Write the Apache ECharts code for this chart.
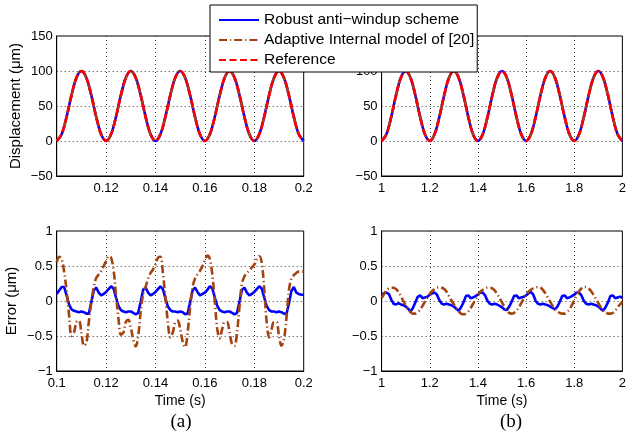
<!DOCTYPE html>
<html>
<head>
<meta charset="utf-8">
<title>Tracking performance</title>
<script src="https://cdn.jsdelivr.net/npm/echarts@6/dist/echarts.min.js"></script>
<style>
  html, body { margin: 0; padding: 0; background: #fff; }
  #chart { width: 629px; height: 438px; }
</style>
</head>
<body>
<div id="chart"></div>
<script>
// ---- series names ----
const seriesNames = ['Robust anti\u2212windup scheme', 'Adaptive Internal model of [20]', 'Reference'];

// ---- sampling grids: (a) 0.1–0.2 s, (b) 1–2 s ----
const timeStartA = 0.1, dispStepA = 0.002, errStepA = 0.001;
const timeStartB = 1.0, dispStepB = 0.02, errStepB = 0.01;

// ---- displacement (µm), same sampled profile in both panels ----
const displacement = [
  0, 9.5, 34.5, 65.5, 90.5, 100, 90.5, 65.5, 34.5, 9.5,
  0, 9.5, 34.5, 65.5, 90.5, 100, 90.5, 65.5, 34.5, 9.5,
  0, 9.5, 34.5, 65.5, 90.5, 100, 90.5, 65.5, 34.5, 9.5,
  0, 9.5, 34.5, 65.5, 90.5, 100, 90.5, 65.5, 34.5, 9.5,
  0, 9.5, 34.5, 65.5, 90.5, 100, 90.5, 65.5, 34.5, 9.5,
  0
];

// ---- tracking error (µm), panel (a), 1 ms samples ----
const errRobustA = [
  0.10, 0.15, 0.20, 0.20, 0.08, -0.05, -0.12, -0.14, -0.15, -0.16, -0.15, -0.16, -0.18, -0.18, -0.02, 0.15, 0.19, 0.12, 0.08, 0.10,
  0.13, 0.17, 0.21, 0.18, 0.05, -0.07, -0.13, -0.15, -0.16, -0.15, -0.15, -0.17, -0.19, -0.17, -0.01, 0.16, 0.19, 0.12, 0.08, 0.10,
  0.13, 0.17, 0.21, 0.17, 0.04, -0.08, -0.13, -0.15, -0.15, -0.16, -0.15, -0.16, -0.19, -0.18, -0.02, 0.15, 0.19, 0.13, 0.08, 0.10,
  0.12, 0.16, 0.21, 0.18, 0.05, -0.07, -0.13, -0.15, -0.16, -0.15, -0.15, -0.17, -0.19, -0.17, -0.01, 0.16, 0.19, 0.12, 0.08, 0.10,
  0.13, 0.17, 0.21, 0.18, 0.05, -0.07, -0.13, -0.15, -0.15, -0.16, -0.15, -0.16, -0.18, -0.19, -0.04, 0.14, 0.20, 0.12, 0.10, 0.09,
  0.09
];
const errAdaptiveA = [
  0.55, 0.63, 0.60, 0.42, 0.15, -0.20, -0.50, -0.45, -0.30, -0.28, -0.45, -0.64, -0.60, -0.30, -0.02, 0.20, 0.33, 0.38, 0.43, 0.50,
  0.57, 0.64, 0.62, 0.45, 0.10, -0.25, -0.48, -0.45, -0.30, -0.27, -0.38, -0.55, -0.65, -0.50, -0.15, 0.10, 0.20, 0.32, 0.40, 0.45,
  0.52, 0.62, 0.63, 0.40, 0.05, -0.30, -0.52, -0.45, -0.30, -0.28, -0.40, -0.58, -0.66, -0.45, -0.10, 0.20, 0.32, 0.38, 0.43, 0.50,
  0.58, 0.65, 0.60, 0.38, 0.00, -0.40, -0.53, -0.40, -0.30, -0.30, -0.45, -0.62, -0.64, -0.45, -0.08, 0.25, 0.35, 0.40, 0.44, 0.48,
  0.52, 0.60, 0.64, 0.55, 0.18, -0.30, -0.52, -0.40, -0.30, -0.30, -0.50, -0.64, -0.55, -0.25, 0.15, 0.32, 0.37, 0.40, 0.42, 0.42,
  0.42
];

// ---- tracking error (µm), panel (b), 10 ms samples ----
const errRobustB = [
  0.08, 0.11, 0.12, 0.10, 0.02, -0.04, -0.05, -0.03, -0.05, -0.06, -0.08, -0.11, -0.15, -0.10, -0.02, 0.06, 0.08, 0.04, 0.05, 0.06,
  0.09, 0.11, 0.12, 0.09, 0.01, -0.04, -0.05, -0.04, -0.05, -0.06, -0.08, -0.11, -0.14, -0.09, -0.02, 0.07, 0.08, 0.04, 0.05, 0.07,
  0.09, 0.12, 0.12, 0.08, 0.00, -0.04, -0.05, -0.04, -0.05, -0.07, -0.09, -0.12, -0.13, -0.08, -0.01, 0.07, 0.08, 0.04, 0.05, 0.06,
  0.08, 0.11, 0.13, 0.09, 0.00, -0.04, -0.05, -0.04, -0.05, -0.06, -0.08, -0.10, -0.12, -0.08, -0.01, 0.07, 0.08, 0.04, 0.05, 0.07,
  0.09, 0.12, 0.12, 0.08, 0.00, -0.04, -0.05, -0.04, -0.05, -0.06, -0.08, -0.11, -0.14, -0.09, -0.02, 0.07, 0.08, 0.04, 0.05, 0.06,
  0.05
];
const errAdaptiveB = [
  0.04, 0.10, 0.15, 0.18, 0.19, 0.19, 0.17, 0.13, 0.07, 0.00, -0.06, -0.12, -0.16, -0.18, -0.18, -0.16, -0.12, -0.07, -0.01, 0.05,
  0.10, 0.14, 0.17, 0.19, 0.20, 0.19, 0.17, 0.13, 0.07, 0.01, -0.05, -0.11, -0.15, -0.18, -0.19, -0.18, -0.15, -0.10, -0.04, 0.02,
  0.08, 0.13, 0.16, 0.18, 0.19, 0.19, 0.18, 0.15, 0.10, 0.04, -0.02, -0.08, -0.13, -0.17, -0.18, -0.17, -0.14, -0.09, -0.03, 0.03,
  0.09, 0.13, 0.16, 0.18, 0.19, 0.20, 0.19, 0.16, 0.11, 0.05, -0.01, -0.07, -0.12, -0.15, -0.17, -0.18, -0.18, -0.16, -0.12, -0.06,
  0.01, 0.08, 0.14, 0.18, 0.20, 0.20, 0.18, 0.14, 0.09, 0.03, -0.03, -0.09, -0.14, -0.16, -0.18, -0.18, -0.17, -0.14, -0.09, -0.05,
  -0.01
];

// ---- tick labels ----
const timeLabelsTopA = ['', '0.12', '0.14', '0.16', '0.18', '0.2'];
const timeLabelsA = ['0.1', '0.12', '0.14', '0.16', '0.18', '0.2'];
const timeLabelsB = ['1', '1.2', '1.4', '1.6', '1.8', '2'];
const dispLabels = ['\u221250', '0', '50', '100', '150'];
const errLabels = ['\u22121', '\u22120.5', '0', '0.5', '1'];

// ---- helpers ----
const FONT = '"Liberation Sans", Arial, Helvetica, sans-serif';
const SERIF = '"Liberation Serif", "Times New Roman", serif';
function sampleTimes(start, step, n) {
  const t = [];
  for (let i = 0; i < n; i++) t.push(+(start + i * step).toFixed(5));
  return t;
}
function pairs(times, values) { return values.map((v, i) => [times[i], v]); }

const tDispA = sampleTimes(timeStartA, dispStepA, displacement.length);
const tDispB = sampleTimes(timeStartB, dispStepB, displacement.length);
const tErrA = sampleTimes(timeStartA, errStepA, errRobustA.length);
const tErrB = sampleTimes(timeStartB, errStepB, errRobustB.length);

const BLUE = '#0000ff', BROWN = '#a3430f', RED = '#ff0000';
const styleRobust = { color: BLUE, width: 2.6, type: 'solid' };
const styleAdaptive = { color: BROWN, width: 2.6, type: [8, 3, 1.2, 3] };
const styleReference = { color: RED, width: 2.6, type: [7, 3.5] };

const gridBox = { show: true, borderColor: '#000', borderWidth: 1, backgroundColor: '#fff' };
const grids = [
  Object.assign({ left: 56.7, top: 36, width: 247, height: 140 }, gridBox),
  Object.assign({ left: 381.6, top: 36, width: 247, height: 140 }, gridBox),
  Object.assign({ left: 56.7, top: 231, width: 247, height: 140 }, gridBox),
  Object.assign({ left: 381.6, top: 231, width: 247, height: 140 }, gridBox)
];

const dotted = { show: true, showMinLine: false, showMaxLine: false,
  lineStyle: { color: '#3a3a3a', width: 1, type: [1, 3] } };
const labelStyle = { color: '#000', fontFamily: FONT, fontSize: 13 };
const nameStyle = { color: '#000', fontFamily: FONT, fontSize: 15 };

function xAxis(gridIndex, min, max, interval, labels, named) {
  return {
    type: 'value', gridIndex, min, max, interval,
    axisLine: { show: true, onZero: false, lineStyle: { color: '#000', width: 1 } },
    axisTick: { show: false },
    splitLine: dotted,
    axisLabel: Object.assign({ margin: 6, hideOverlap: false, showMinLabel: true, showMaxLabel: true,
      formatter: (v, i) => labels[i] }, labelStyle),
    name: named ? 'Time (s)' : '', nameLocation: 'middle', nameGap: 23,
    nameTextStyle: Object.assign({}, nameStyle, { fontSize: 14 })
  };
}
function yAxis(gridIndex, min, max, interval, labels, name, gap) {
  return {
    type: 'value', gridIndex, min, max, interval,
    axisLine: { show: true, onZero: false, lineStyle: { color: '#000', width: 1 } },
    axisTick: { show: false },
    splitLine: dotted,
    axisLabel: Object.assign({ margin: 4, formatter: (v, i) => labels[i] }, labelStyle),
    name, nameLocation: 'middle', nameGap: gap, nameTextStyle: nameStyle
  };
}

function line(name, xi, data, lineStyle, z) {
  return { name, type: 'line', xAxisIndex: xi, yAxisIndex: xi, data, showSymbol: false,
    symbol: 'none', smooth: false, itemStyle: { color: lineStyle.color }, lineStyle, z, animation: false };
}
function smoothLine(name, xi, data, lineStyle, z) {
  const s = line(name, xi, data, lineStyle, z);
  s.smooth = 0.35;
  return s;
}

const option = {
  animation: false,
  backgroundColor: '#fff',
  textStyle: { fontFamily: FONT },
  grid: grids,
  xAxis: [
    xAxis(0, 0.1, 0.2, 0.02, timeLabelsTopA, false),
    xAxis(1, 1, 2, 0.2, timeLabelsB, false),
    xAxis(2, 0.1, 0.2, 0.02, timeLabelsA, true),
    xAxis(3, 1, 2, 0.2, timeLabelsB, true)
  ],
  yAxis: [
    yAxis(0, -50, 150, 50, dispLabels, 'Displacement (\u03bcm)', 33),
    yAxis(1, -50, 150, 50, dispLabels, '', 33),
    yAxis(2, -1, 1, 0.5, errLabels, 'Error (\u03bcm)', 37),
    yAxis(3, -1, 1, 0.5, errLabels, '', 37)
  ],
  legend: {
    data: seriesNames,
    orient: 'vertical',
    left: 210, top: 5,
    padding: [7, 3, 4, 8],
    itemWidth: 40, itemHeight: 14, itemGap: 4,
    itemStyle: { opacity: 0 },
    backgroundColor: '#fff', borderColor: '#000', borderWidth: 1, borderRadius: 0,
    textStyle: { color: '#000', fontFamily: FONT, fontSize: 15.5, lineHeight: 14 },
    z: 10
  },
  graphic: [
    { type: 'text', x: 181, y: 422, z: 10,
      style: { text: '(a)', fill: '#000', font: '19px ' + SERIF, textAlign: 'center', textVerticalAlign: 'middle' } },
    { type: 'text', x: 511, y: 422, z: 10,
      style: { text: '(b)', fill: '#000', font: '19px ' + SERIF, textAlign: 'center', textVerticalAlign: 'middle' } }
  ],
  series: [
    smoothLine(seriesNames[0], 0, pairs(tDispA, displacement), styleRobust, 2),
    smoothLine(seriesNames[1], 0, pairs(tDispA, displacement), styleAdaptive, 3),
    smoothLine(seriesNames[2], 0, pairs(tDispA, displacement), styleReference, 4),
    smoothLine(seriesNames[0], 1, pairs(tDispB, displacement), styleRobust, 2),
    smoothLine(seriesNames[1], 1, pairs(tDispB, displacement), styleAdaptive, 3),
    smoothLine(seriesNames[2], 1, pairs(tDispB, displacement), styleReference, 4),
    line(seriesNames[0], 2, pairs(tErrA, errRobustA), styleRobust, 2),
    smoothLine(seriesNames[1], 2, pairs(tErrA, errAdaptiveA), styleAdaptive, 3),
    line(seriesNames[0], 3, pairs(tErrB, errRobustB), styleRobust, 2),
    smoothLine(seriesNames[1], 3, pairs(tErrB, errAdaptiveB), styleAdaptive, 3)
  ]
};

const chart = echarts.init(document.getElementById('chart'), null, { renderer: 'canvas' });
chart.setOption(option);
</script>
</body>
</html>
